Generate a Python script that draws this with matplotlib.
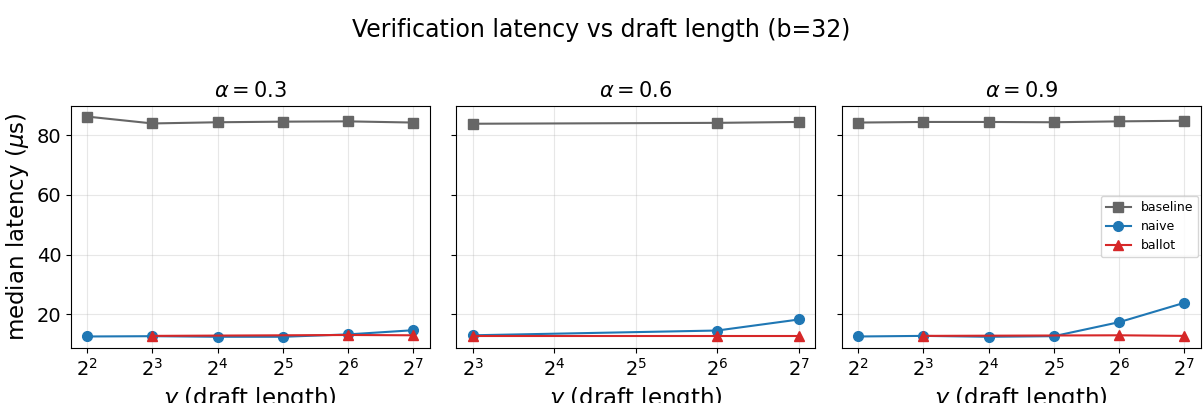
import matplotlib.pyplot as plt
import numpy as np

alphas = [0.3, 0.6, 0.9]

# draft lengths per panel
gamma_a03 = [4, 8, 16, 32, 64, 128]
gamma_a06 = [8, 64, 128]
gamma_a09 = [4, 8, 16, 32, 64, 128]

baseline_a03 = [86.3, 84.0, 84.4, 84.6, 84.7, 84.3]
naive_a03 = [12.5, 12.6, 12.4, 12.4, 13.2, 14.6]
ballot_gamma_a03 = [8, 64, 128]
ballot_a03 = [12.7, 13.0, 12.9]

baseline_a06 = [83.9, 84.2, 84.5]
naive_a06 = [12.9, 14.5, 18.2]
ballot_gamma_a06 = [8, 64, 128]
ballot_a06 = [12.8, 12.8, 12.8]

baseline_a09 = [84.3, 84.5, 84.5, 84.4, 84.7, 84.9]
naive_a09 = [12.5, 12.7, 12.4, 12.6, 17.3, 23.8]
ballot_gamma_a09 = [8, 64, 128]
ballot_a09 = [12.7, 12.9, 12.7]

panels = [
    (gamma_a03, baseline_a03, naive_a03, ballot_gamma_a03, ballot_a03),
    (gamma_a06, baseline_a06, naive_a06, ballot_gamma_a06, ballot_a06),
    (gamma_a09, baseline_a09, naive_a09, ballot_gamma_a09, ballot_a09),
]

fig, axes = plt.subplots(1, 3, figsize=(12.03, 4.03), dpi=100, sharey=True)
fig.subplots_adjust(left=0.059, right=0.998, top=0.738, bottom=0.137, wspace=0.075)

for ax, a, (g, base, naive, bg, ballot) in zip(axes, alphas, panels):
    ax.plot(g, base, marker="s", color="#666666", markersize=7, label="baseline")
    ax.plot(g, naive, marker="o", color="tab:blue", markersize=7, label="naive")
    ax.plot(bg, ballot, marker="^", color="tab:red", markersize=7, label="ballot")
    ax.set_xscale("log", base=2)
    ax.set_title(r"$\alpha = %.1f$" % a, fontsize=15)
    ax.set_xlabel(r"$\gamma$ (draft length)", fontsize=16.5)
    ax.tick_params(labelsize=14)
    ax.grid(True, alpha=0.3)

axes[0].set_ylabel(r"median latency ($\mu$s)", fontsize=16.5)
axes[0].set_yticks([20, 40, 60, 80])
axes[2].legend(loc="center right", fontsize=9, borderaxespad=0.2)

fig.suptitle("Verification latency vs draft length (b=32)", fontsize=17, y=0.955)
fig.savefig("out.png", dpi=100)
